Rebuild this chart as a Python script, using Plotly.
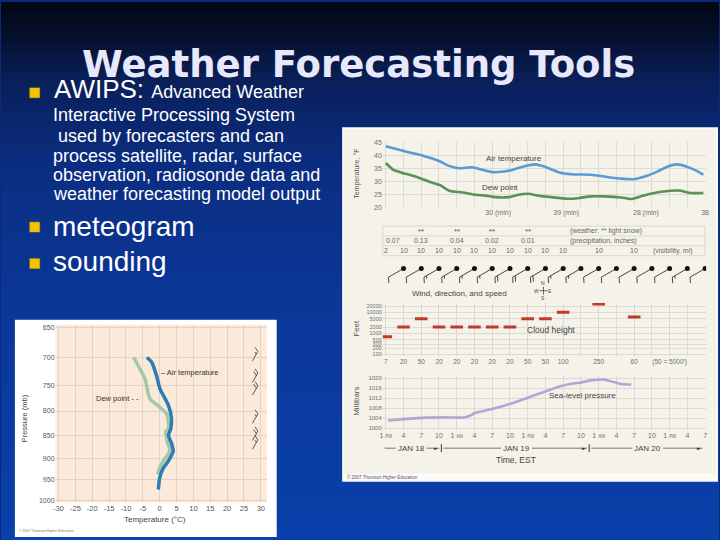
import numpy as np
import plotly.graph_objects as go

W, H = 720, 540
FONT = "Liberation Sans, Arial, sans-serif"

# ---------------- Meteogram data (time = hours after 1 PM, Jan 18) ----------------
time_tick_hours = [0, 3, 6, 9, 12, 15, 18, 21, 24, 27, 30, 33, 36, 39, 42, 45, 48, 51, 54]
time_tick_labels = ["1 PM", "4", "7", "10", "1 AM", "4", "7", "10", "1 PM", "4", "7", "10",
                    "1 AM", "4", "7", "10", "1 PM", "4", "7"]

temp_label_hours = [19, 30.5, 44, 54]
temp_label_text = ["30 (min)", "39 (min)", "28 (min)", "38"]

air_hours = [0, 3.5, 6.3, 9, 10.7, 12.4, 14.6, 16.3, 18, 20.8, 23.6, 25.3, 26.9, 29.2, 31.4,
             34.7, 37, 39.8, 42, 44.2, 45.9, 47.6, 49.3, 50.9, 52.6, 53.7]
air_temp_f = [43.4, 41.3, 39.8, 37.8, 35.9, 35.0, 35.4, 34.4, 33.5, 34.0, 35.9, 36.5, 35.6, 33.5,
              32.7, 32.5, 31.8, 31.0, 30.8, 32.1, 33.7, 35.6, 36.5, 35.6, 34.0, 32.5]

dew_hours = [0, 1.2, 2.3, 5.1, 7.4, 9.1, 10.7, 13.0, 15.2, 16.9, 18.5, 20.8, 22.5, 24.1, 25.8,
             28.0, 30.8, 32.5, 34.7, 37.0, 39.8, 41.5, 43.1, 44.8, 47.0, 49.8, 51.5, 53.7]
dew_point_f = [37.0, 34.5, 33.6, 31.7, 29.8, 28.6, 26.4, 25.7, 24.8, 24.5, 23.9, 23.9, 24.8, 25.2,
               24.5, 23.9, 23.3, 23.5, 24.2, 24.2, 23.8, 23.2, 24.2, 25.2, 26.1, 26.4, 25.5, 25.5]

snow_hours = [6, 12, 18, 24]
precip_hours = [0, 6, 12, 18, 24]
precip_inches = ["0.07", "0.13", "0.04", "0.02", "0.01"]
vis_hours = [0, 3, 6, 9, 12, 15, 18, 21, 24, 27, 30, 36, 42]
visibility_mi = [2, 10, 10, 10, 10, 10, 10, 10, 10, 10, 10, 10, 10]

wind_hours = [3, 6, 9, 12, 15, 18, 21, 24, 27, 30, 33, 36, 39, 42, 45, 48, 51, 54]
wind_dir_deg = [240, 240, 240, 240, 240, 240, 240, 240, 240, 240, 240, 240, 240, 240, 240, 240, 240, 240]
wind_speed_kt = [10, 10, 15, 15, 15, 15, 20, 20, 20, 15, 15, 10, 10, 10, 10, 10, 15, 10]

cloud_hours = [0, 3, 6, 9, 12, 15, 18, 21, 24, 27, 30, 36, 42]
cloud_height_ft = [700, 2000, 5000, 2000, 2000, 2000, 2000, 2000, 5000, 5000, 10000, 25000, 6000]
cloud_ticks_ft = [100, 200, 300, 500, 1000, 2000, 5000, 10000, 20000]

slp_hours = [0.4, 3.5, 6.8, 10.2, 13, 14.1, 15.2, 17.4, 19.7, 21.9, 24.1, 26.9, 29.2, 31.4, 33.1,
             34.7, 37, 38.1, 39.8, 41.5]
slp_mb = [1003.2, 1003.8, 1004.3, 1004.4, 1004.3, 1004.9, 1006.2, 1007.4, 1008.8, 1010.4, 1012.3,
          1014.6, 1016.6, 1017.8, 1018.3, 1019.1, 1019.4, 1018.7, 1017.7, 1017.5]
slp_ticks = [1000, 1004, 1008, 1012, 1016, 1020]

day_labels = ["JAN 18", "JAN 19", "JAN 20"]
day_label_hours = [4.3, 22.1, 44.3]
day_bounds = [-0.2, 9.4, 34.4, 53.9]

# ---------------- Sounding data ----------------
snd_air_p = [700, 708, 733, 757, 789, 815, 836, 850, 867, 884, 906, 922, 945, 973]
snd_air_t = [-3.8, -2.4, -0.9, 0.1, 2.6, 3.5, 3.3, 2.6, 3.5, 4.0, 2.6, 1.1, 0.0, -0.4]
snd_dew_p = [700, 721, 739, 754, 776, 790, 806, 823, 836, 842, 867, 880, 890, 906, 919, 937]
snd_dew_t = [-7.7, -5.8, -4.3, -3.8, -2.9, -0.4, 2.1, 2.6, 2.6, 1.8, 2.4, 3.0, 2.6, 1.1, 0.1, -0.6]
snd_ticks_t = [-30, -25, -20, -15, -10, -5, 0, 5, 10, 15, 20, 25, 30]
snd_ticks_p = [650, 700, 750, 800, 850, 900, 950, 1000]
snd_wind_p = [706, 745, 769, 825, 861, 880]
snd_wind_dir = [30, 30, 30, 30, 30, 30]
snd_wind_speed = [15, 20, 20, 15, 20, 15]
snd_wind_t = 27.5

# ---------------- helpers ----------------
def P(x):
    return x / W

def Q(y):
    return 1 - y / H

HOUR0_PX, HOUR_PX = 386.0, 5.963
X_DOM = [P(383), P(709)]
X_RANGE = [(383 - HOUR0_PX) / HOUR_PX, (709 - HOUR0_PX) / HOUR_PX]
GRID = "#d6d6d2"
TICKC = "#707070"

fig = go.Figure()
shapes = []
annotations = []

def text(t, x, y, size, color="#444444", xanchor="center", yanchor="middle",
         xref="paper", yref="paper", angle=0, family=FONT):
    annotations.append(dict(
        text=t, x=P(x) if xref == "paper" else x, y=Q(y) if yref == "paper" else y,
        xref=xref, yref=yref, xanchor=xanchor, yanchor=yanchor, showarrow=False,
        textangle=angle, font=dict(size=size, color=color, family=family)))

def rect(x0, y0, x1, y1, fill, line_color=None, lw=0):
    shapes.append(dict(type="rect", xref="paper", yref="paper", x0=P(x0), x1=P(x1),
                       y0=Q(y1), y1=Q(y0), fillcolor=fill, layer="below",
                       line=dict(width=lw, color=line_color or fill)))

def barb(x0, y0, direction, speed, length, sx, to_y, side=1, flen=7.0):
    d = np.radians(direction)
    ux, uy = np.sin(d), np.cos(d)
    if side > 0:
        nx, ny = uy, -ux
    else:
        nx, ny = -uy, ux
    fx, fy = 0.9 * nx + 0.45 * ux, 0.9 * ny + 0.45 * uy
    xs, ys = [], []

    def seg(a, b):
        for dx, dy in (a, b):
            xs.append(x0 + dx / sx)
            ys.append(to_y(y0, dy))
        xs.append(None)
        ys.append(None)

    seg((0, 0), (ux * length, uy * length))
    full, half = int(speed // 10), int((speed % 10) >= 5)
    pos = length
    for _ in range(full):
        bx, by = ux * pos, uy * pos
        seg((bx, by), (bx + fx * flen, by + fy * flen))
        pos -= 3
    if half:
        if full == 0:
            pos -= 3
        bx, by = ux * pos, uy * pos
        seg((bx, by), (bx + fx * flen * 0.5, by + fy * flen * 0.5))
    return xs, ys

# ---------------- background gradient ----------------
stops = [(0, (2, 6, 20)), (40, (6, 18, 52)), (80, (10, 32, 92)), (160, (11, 45, 128)),
         (300, (11, 55, 152)), (540, (10, 64, 170))]
for i in range(54):
    yc = i * 10 + 5
    for k in range(len(stops) - 1):
        if stops[k][0] <= yc <= stops[k + 1][0]:
            t = (yc - stops[k][0]) / (stops[k + 1][0] - stops[k][0])
            c = [round(stops[k][1][j] + t * (stops[k + 1][1][j] - stops[k][1][j])) for j in range(3)]
            break
    rect(-2, i * 10 - (2 if i == 0 else 0), 722, i * 10 + 11 + (2 if i == 53 else 0),
         "rgb(%d,%d,%d)" % tuple(c))

# ---------------- panels ----------------
rect(343, 126, 720, 483, "#f4f2e9", "#fbfaf6", 2)
rect(343, 476, 720, 483, "#fbfbf8")
rect(12, 320, 276, 540, "#ffffff")
rect(53, 325, 266, 505, "#fbe9da")

# bullets
for yb in (85, 221, 258):
    rect(27, yb, 37, yb + 10, "#f5c400", "#d9a800", 0.5)

# ---------------- slide text ----------------
text("<b>Weather Forecasting Tools</b>", 358, 61, 37, "#e8e8fb", family="DejaVu Sans, Verdana, sans-serif")
BODY = "#ffffff"
text("AWIPS: <span style='font-size:18px'>Advanced Weather</span>", 49, 86, 26, BODY, xanchor="left")
text("Interactive Processing System", 48, 112, 18, BODY, xanchor="left")
text(" used by forecasters and can", 48, 134, 18, BODY, xanchor="left")
text("process satellite, radar, surface", 48, 154, 18, BODY, xanchor="left")
text("observation, radiosonde data and", 48, 173, 18, BODY, xanchor="left")
text("weather forecasting model output", 48, 193, 18, BODY, xanchor="left")
text("meteogram", 48, 225, 28, BODY, xanchor="left")
text("sounding", 48, 261, 28, BODY, xanchor="left")

# ---------------- meteogram: temperature ----------------
fig.add_trace(go.Scatter(x=air_hours, y=air_temp_f, mode="lines", xaxis="x", yaxis="y",
                         line=dict(color="#5b9ad6", width=2.6, shape="spline", smoothing=0.6)))
fig.add_trace(go.Scatter(x=dew_hours, y=dew_point_f, mode="lines", xaxis="x", yaxis="y",
                         line=dict(color="#5b9159", width=2.6, shape="spline", smoothing=0.6)))
text("Air temperature", 515, 157, 8, "#444444")
text("Dew point", 501, 186, 8, "#444444")
text("Temperature, °F", 357, 172, 7, "#555555", angle=-90)

# ---------------- meteogram: table ----------------
for yl in (225, 235, 245, 255):
    shapes.append(dict(type="line", xref="paper", yref="paper", x0=P(383), x1=P(708),
                       y0=Q(yl), y1=Q(yl), line=dict(color="#d2d2cc", width=0.8)))
for xl in (383, 708):
    shapes.append(dict(type="line", xref="paper", yref="paper", x0=P(xl), x1=P(xl),
                       y0=Q(225), y1=Q(255), line=dict(color="#d2d2cc", width=0.8)))
TBL = "#666666"
for h in snow_hours:
    text("**", h, 230.5, 8, "#555555", xref="x")
for h, v in zip(precip_hours, precip_inches):
    text(v, h - 0.3 if h == 0 else h, 240, 7, TBL, xref="x", xanchor="left" if h == 0 else "center")
for h, v in zip(vis_hours, visibility_mi):
    text(str(v), h, 250, 7, TBL, xref="x")
text("(weather: ** light snow)", 570, 230, 7, TBL, xanchor="left")
text("(precipitation, inches)", 570, 240, 7, TBL, xanchor="left")
text("(visibility, mi)", 653, 250, 7, TBL, xanchor="left")

# ---------------- meteogram: wind barbs ----------------
bx, by = [], []
for h, dd, sp in zip(wind_hours, wind_dir_deg, wind_speed_kt):
    xs, ys = barb(h, 18, dd, sp, 17.5, HOUR_PX, lambda y0, dy: y0 + dy, side=-1, flen=6)
    bx += xs
    by += ys
fig.add_trace(go.Scatter(x=bx, y=by, mode="lines", xaxis="x2", yaxis="y2",
                         line=dict(color="#333333", width=0.9)))
fig.add_trace(go.Scatter(x=wind_hours, y=[18] * len(wind_hours), mode="markers", xaxis="x2", yaxis="y2",
                         marker=dict(color="#111111", size=5)))
text("Wind, direction, and speed", 460, 293, 8, "#444444")
text("N", 545, 283, 5, "#444444")
text("S", 545, 298, 5, "#444444")
text("W", 538, 290.5, 5, "#444444")
text("E", 552, 290.5, 5, "#444444")
shapes.append(dict(type="line", xref="paper", yref="paper", x0=P(541), x1=P(549), y0=Q(290.5), y1=Q(290.5),
                   line=dict(color="#444444", width=0.8)))
shapes.append(dict(type="line", xref="paper", yref="paper", x0=P(545), x1=P(545), y0=Q(286.5), y1=Q(294.5),
                   line=dict(color="#444444", width=0.8)))

# ---------------- meteogram: cloud height ----------------
fig.add_trace(go.Scatter(x=cloud_hours, y=cloud_height_ft, mode="markers", xaxis="x3", yaxis="y3",
                         marker=dict(symbol="line-ew", size=9, line=dict(width=3, color="#c0392b"))))
text("Cloud height", 553, 330, 8.5, "#444444")
text("Feet", 357, 329, 8, "#555555", angle=-90)

# ---------------- meteogram: sea-level pressure ----------------
fig.add_trace(go.Scatter(x=slp_hours, y=slp_mb, mode="lines", xaxis="x4", yaxis="y4",
                         line=dict(color="#b9a2d4", width=2.6, shape="spline", smoothing=0.6)))
text("Sea-level pressure", 584, 397, 8, "#444444")
text("Millibars", 357, 403, 8, "#555555", angle=-90)
text("Time, EST", 517, 462, 8.5, "#444444")

# date bar
DL = "#555555"
half_w = 15.5 / HOUR_PX
for i, lab in enumerate(day_labels):
    c = day_label_hours[i]
    text(lab, c, 450, 8, "#444444", xref="x4")
    x_left = day_bounds[i] + (0.35 if i > 0 else 0)
    x_right = day_bounds[i + 1] - 0.35
    for a, b in ((x_left, c - half_w), (c + half_w, x_right)):
        shapes.append(dict(type="line", xref="x4", yref="paper", x0=a, x1=b, y0=Q(450), y1=Q(450),
                           line=dict(color=DL, width=0.8)))
    text("►", x_right + 0.1, 450, 5, "#333333", xref="x4", xanchor="right", family="DejaVu Sans")
for b in day_bounds[1:3]:
    shapes.append(dict(type="line", xref="x4", yref="paper", x0=b, x1=b, y0=Q(454), y1=Q(446),
                       line=dict(color="#333333", width=1)))

text("© 2007 Thomson Higher Education", 345, 479.5, 4.5, "#555555", xanchor="left")

# ---------------- sounding ----------------
S_T0_PX, S_T_PX = 158.0, 3.4
S_LOG_PX = 935.3
fig.add_trace(go.Scatter(x=snd_dew_t, y=snd_dew_p, mode="lines", xaxis="x5", yaxis="y5",
                         line=dict(color="#a3c8a9", width=3.5, shape="spline", smoothing=0.6)))
fig.add_trace(go.Scatter(x=snd_air_t, y=snd_air_p, mode="lines", xaxis="x5", yaxis="y5",
                         line=dict(color="#2f7bb4", width=3.5, shape="spline", smoothing=0.6)))
sx_, sy_ = [], []
for p0, dd, sp in zip(snd_wind_p, snd_wind_dir, snd_wind_speed):
    xs, ys = barb(snd_wind_t, p0, dd, sp, 11, S_T_PX,
                  lambda y0, dy: 10 ** (np.log10(y0) - dy / S_LOG_PX), side=-1, flen=5)
    sx_ += xs
    sy_ += ys
fig.add_trace(go.Scatter(x=sx_, y=sy_, mode="lines", xaxis="x5", yaxis="y5",
                         line=dict(color="#333333", width=0.8)))
text("– Air temperature", 157, 373, 7.5, "#333333", xanchor="left")
text("Dew point - -", 139, 400, 7.5, "#333333", xanchor="right")
text("Pressure (mb)", 22, 420, 7.5, "#444444", angle=-90)
text("Temperature (°C)", 153, 522, 8, "#444444")
text("© 2007 Thomson Higher Education", 14, 534, 3.5, "#777777", xanchor="left")

# ---------------- axes ----------------
def xax(**kw):
    d = dict(domain=X_DOM, range=X_RANGE, zeroline=False, showline=False, ticks="",
             fixedrange=True, tickfont=dict(size=7, color=TICKC, family=FONT))
    d.update(kw)
    return d

def yax(dom_px, **kw):
    d = dict(domain=[Q(dom_px[1]), Q(dom_px[0])], zeroline=False, showline=False, ticks="",
             fixedrange=True, tickfont=dict(size=7, color=TICKC, family=FONT),
             showgrid=True, gridcolor=GRID, gridwidth=0.8)
    d.update(kw)
    return d

minor_grid = dict(tickmode="array", tickvals=time_tick_hours, showgrid=True, gridcolor=GRID, gridwidth=0.8)

fig.update_layout(
    width=W, height=H, margin=dict(l=0, r=0, t=0, b=0),
    paper_bgcolor="#0b2a78", plot_bgcolor="rgba(0,0,0,0)", showlegend=False,
    font=dict(family=FONT), hovermode=False,
    xaxis=xax(anchor="y", tickmode="array", tickvals=temp_label_hours, ticktext=temp_label_text,
              showgrid=False, minor=minor_grid),
    yaxis=yax((140, 206), anchor="x", range=[20, 45], tickmode="array",
              tickvals=[20, 25, 30, 35, 40, 45]),
    xaxis2=xax(anchor="y2", visible=False),
    yaxis2=yax((258, 286), anchor="x2", range=[0, 28], visible=False),
    xaxis3=xax(anchor="y3", tickmode="array", tickvals=cloud_hours + [48],
               ticktext=[str(v // 100) for v in cloud_height_ft] + ["(50 = 5000′)"],
               showgrid=True, gridcolor=GRID, gridwidth=0.8, minor=minor_grid,
               tickfont=dict(size=6.5, color=TICKC, family=FONT)),
    yaxis3=yax((303, 357), anchor="x3", type="log", range=[1.906, 4.442], tickmode="array",
               tickvals=cloud_ticks_ft, ticktext=[str(v) for v in cloud_ticks_ft],
               tickfont=dict(size=5.5, color=TICKC, family=FONT)),
    xaxis4=xax(anchor="y4", tickmode="array", tickvals=time_tick_hours,
               ticktext=[t.replace(" PM", " <span style='font-size:4.5px'>PM</span>")
                          .replace(" AM", " <span style='font-size:4.5px'>AM</span>")
                         for t in time_tick_labels],
               showgrid=True, gridcolor=GRID, gridwidth=0.8),
    yaxis4=yax((376, 432), anchor="x4", range=[999.2, 1021.2], tickmode="array",
               tickvals=slp_ticks, tickfont=dict(size=6, color=TICKC, family=FONT)),
    xaxis5=dict(domain=[P(53), P(266)],
                range=[(53 - S_T0_PX) / S_T_PX, (266 - S_T0_PX) / S_T_PX],
                anchor="y5", tickmode="array", tickvals=snd_ticks_t,
                ticktext=[str(v) for v in snd_ticks_t], ticks="",
                zeroline=False, showline=False, fixedrange=True,
                showgrid=True, gridcolor="#dccdc1", gridwidth=0.8,
                tickfont=dict(size=7.5, color="#555555", family=FONT)),
    yaxis5=dict(domain=[Q(505), Q(325)], type="log",
                range=[np.log10(1000) + 2 / S_LOG_PX, np.log10(650) - 3 / S_LOG_PX],
                anchor="x5", tickmode="array", tickvals=snd_ticks_p, ticks="",
                zeroline=False, showline=False, fixedrange=True,
                showgrid=True, gridcolor="#dccdc1", gridwidth=0.8,
                tickfont=dict(size=7, color="#555555", family=FONT)),
    shapes=shapes,
    annotations=annotations,
)

fig.write_html("out.html", config={"displayModeBar": False, "staticPlot": True},
               post_script=("document.documentElement.style.background='#020614';"
                            "document.body.style.background='#020614';"
                            "document.body.style.margin='0px';document.body.style.overflow='hidden';"))
